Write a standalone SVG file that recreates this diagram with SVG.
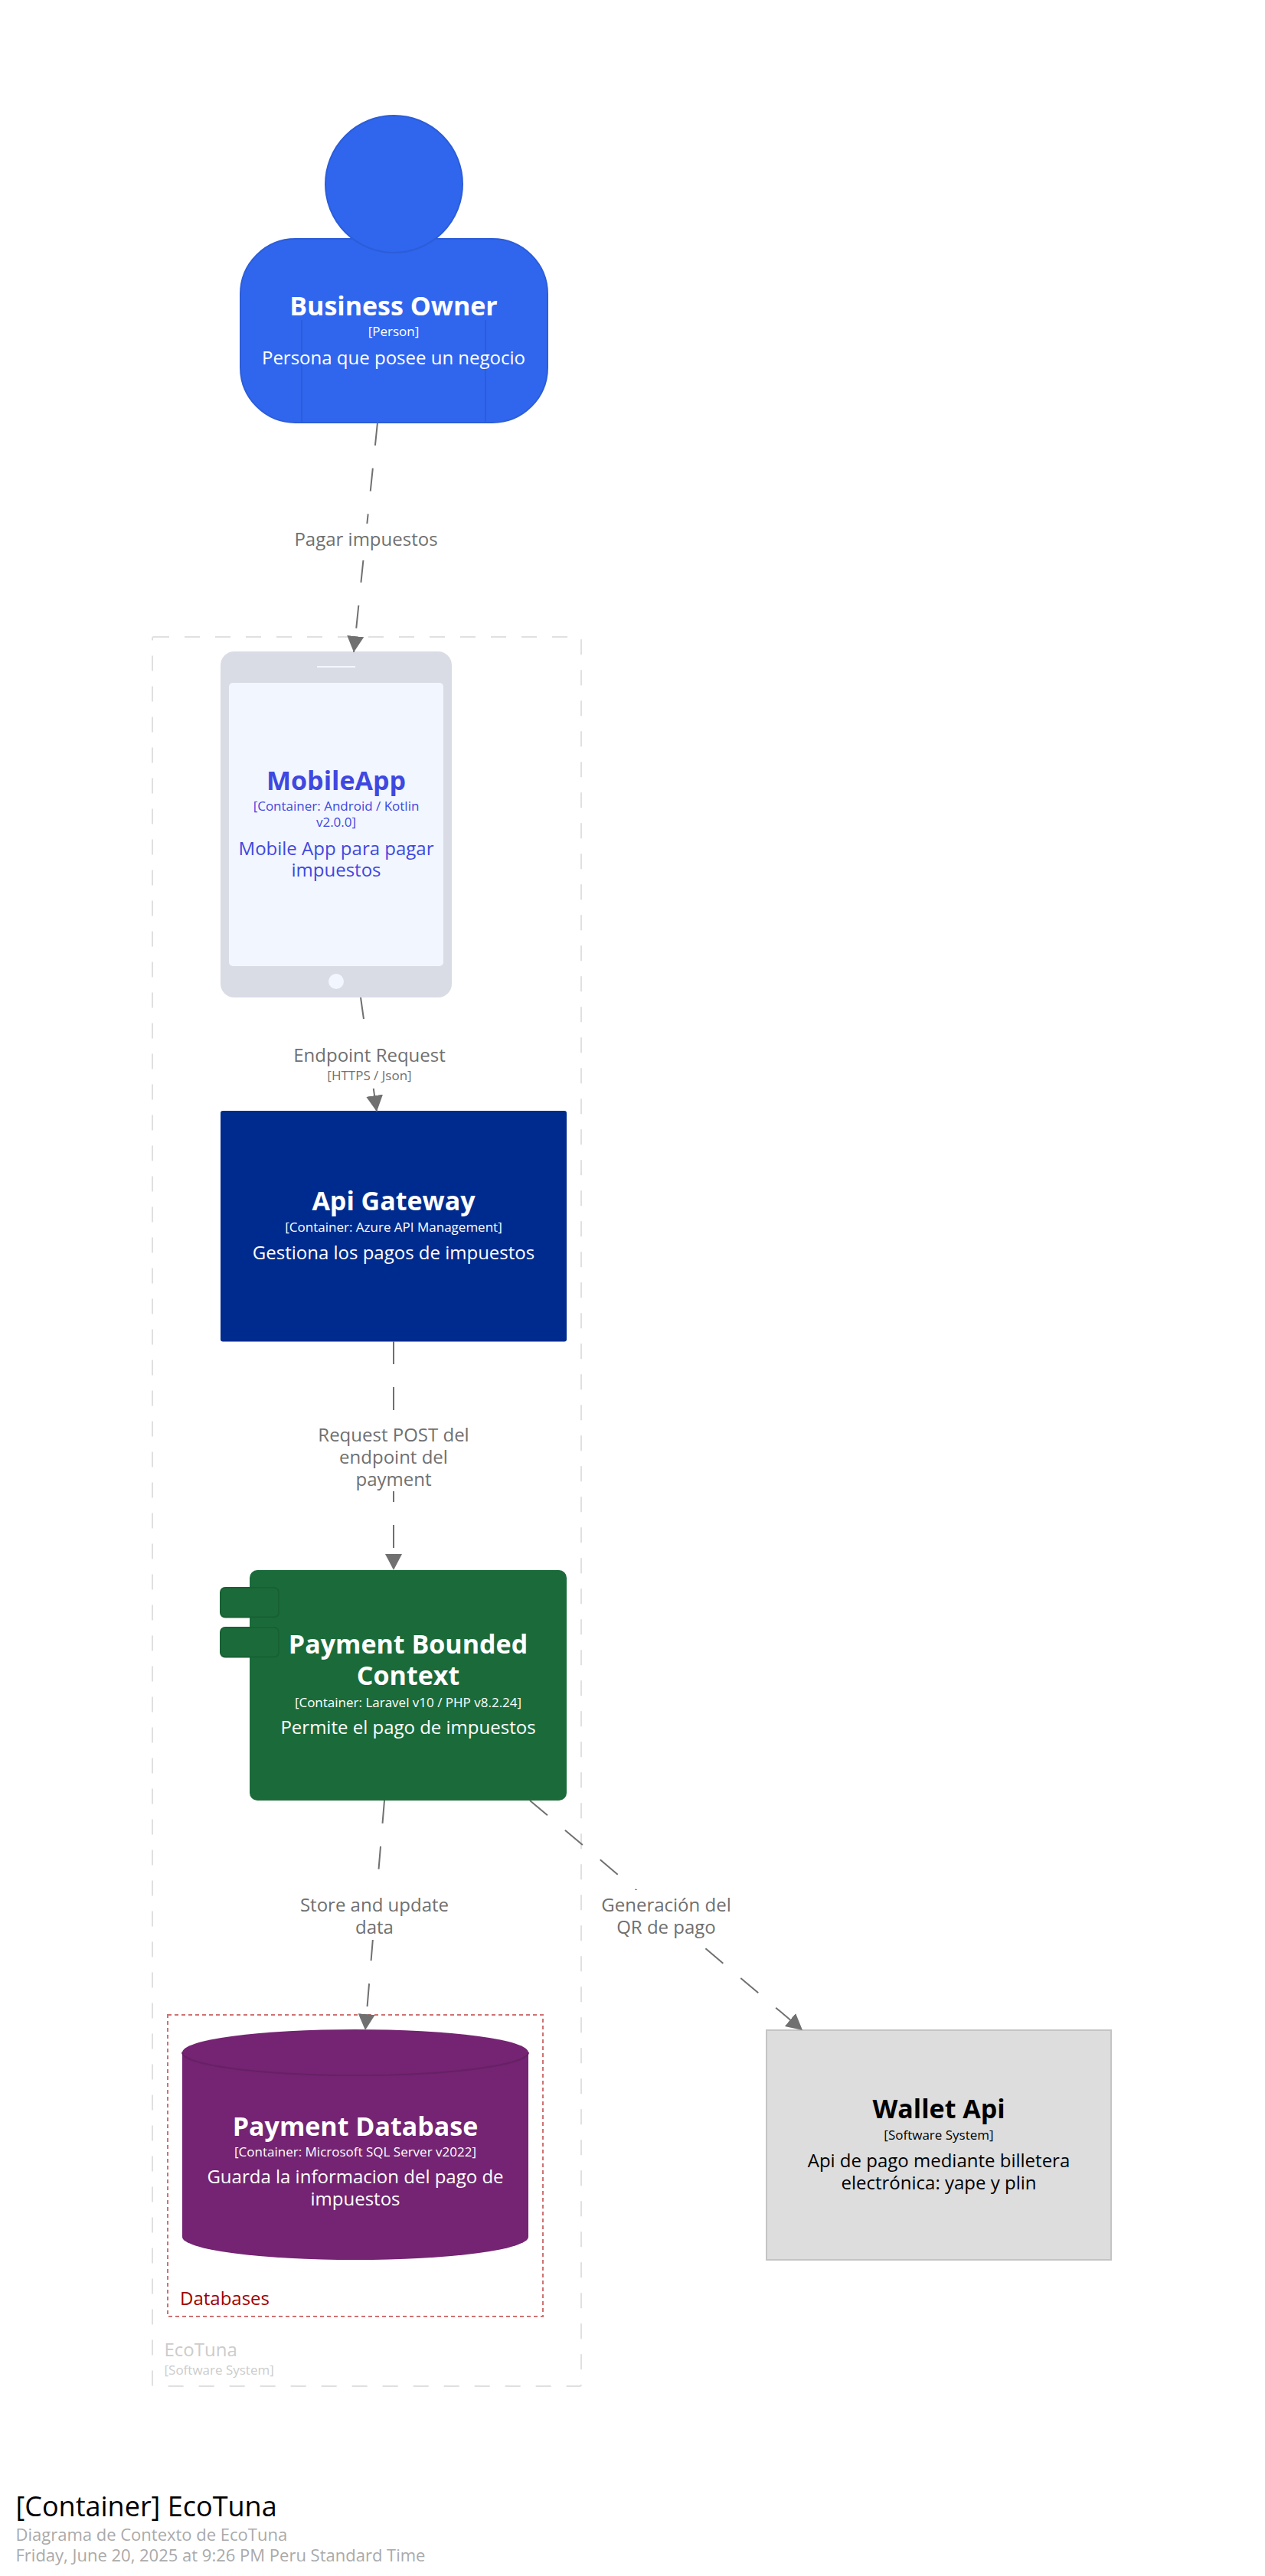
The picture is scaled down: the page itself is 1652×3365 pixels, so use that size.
<svg xmlns="http://www.w3.org/2000/svg" width="1652" height="3365" viewBox="0 0 1652 3365">
<style>
text{font-family:"Open Sans","Noto Sans",sans-serif}
.m{text-anchor:middle}
.n{font-weight:700;font-size:34px}
.t{font-size:17px}
.d{font-size:24px}
.w{fill:#fff}
.l{font-size:24px;fill:#707070;text-anchor:middle}
.c{fill:none;stroke:#707070;stroke-width:2;stroke-dasharray:30 30;marker-end:url(#arrow)}
.bg{fill:#fff}
</style>
<defs>
<marker id="arrow" markerUnits="userSpaceOnUse" markerWidth="22" markerHeight="22" refX="21" refY="11" orient="auto"><path d="M0,0L21,11L0,22Z" fill="#707070"/></marker>
</defs>
<rect width="1652" height="3365" fill="#fff"/>
<g id="boundary-ecotuna">
<rect x="199" y="832" width="560" height="2285" rx="2" fill="none" stroke="#E0E0E0" stroke-width="2" stroke-dasharray="20 20"/>
<text x="214.500" y="3078" font-size="24" fill="#CCCCCC">EcoTuna</text>
<text x="214.500" y="3102" font-size="17" fill="#CCCCCC">[Software System]</text>
</g>
<g id="boundary-databases">
<rect x="219" y="2632" width="490" height="394" fill="none" stroke="#CF7272" stroke-width="2" stroke-dasharray="5 4"/>
<text x="235" y="3011" font-size="24" fill="#A00000">Databases</text>
</g>
<g id="node-business-owner">
<rect x="314" y="312" width="401" height="240" rx="72" fill="#3066EE" stroke="#2C5DD8" stroke-width="2"/>
<path d="M394,418V552M634,418V552" stroke="#2C5DD8" stroke-width="2" fill="none"/>
<circle cx="514.500" cy="240.500" r="89.500" fill="#3066EE" stroke="#2C5DD8" stroke-width="2"/>
<text class="m n w" x="514" y="412">Business Owner</text>
<text class="m t w" x="514" y="439">[Person]</text>
<text class="m d w" x="514" y="476">Persona que posee un negocio</text>
</g>
<g id="node-mobile-app">
<rect x="288" y="851" width="302" height="452" rx="18" fill="#D9DCE5"/>
<rect x="299" y="892" width="280" height="370" rx="5" fill="#F2F6FE"/>
<path d="M414,871H464" stroke="#F2F6FE" stroke-width="2"/>
<circle cx="439" cy="1282" r="10" fill="#F2F6FE"/>
<g fill="#3F48E0">
<text class="m n" x="439" y="1031.500">MobileApp</text>
<text class="m t" x="439" y="1059">[Container: Android / Kotlin</text>
<text class="m t" x="439" y="1080">v2.0.0]</text>
<text class="m d" x="439" y="1116.500">Mobile App para pagar</text>
<text class="m d" x="439" y="1145">impuestos</text>
</g>
</g>
<g id="node-api-gateway">
<rect x="288" y="1451" width="452" height="301.500" rx="3" fill="#002B8E"/>
<text class="m n w" x="514" y="1581">Api Gateway</text>
<text class="m t w" x="514" y="1609">[Container: Azure API Management]</text>
<text class="m d w" x="514" y="1645">Gestiona los pagos de impuestos</text>
</g>
<g id="node-payment">
<rect x="326" y="2051" width="414" height="301" rx="10" fill="#1B6B3A"/>
<rect x="288" y="2074" width="76" height="38.500" rx="6" fill="#1B6B3A" stroke="#186033" stroke-width="2"/>
<rect x="288" y="2126" width="76" height="38.500" rx="6" fill="#1B6B3A" stroke="#186033" stroke-width="2"/>
<text class="m n w" x="533" y="2160">Payment Bounded</text>
<text class="m n w" x="533" y="2201">Context</text>
<text class="m t w" x="533" y="2230">[Container: Laravel v10 / PHP v8.2.24]</text>
<text class="m d w" x="533" y="2265">Permite el pago de impuestos</text>
</g>
<g id="node-payment-database">
<path d="M238,2681A226,30 0 0 1 690,2681V2922A226,30 0 0 1 238,2922Z" fill="#742472"/>
<path d="M238,2681A226,30 0 0 0 690,2681" fill="none" stroke="#672065" stroke-width="2"/>
<text class="m n w" x="464" y="2790">Payment Database</text>
<text class="m t w" x="464" y="2817">[Container: Microsoft SQL Server v2022]</text>
<text class="m d w" x="464" y="2852">Guarda la informacion del pago de</text>
<text class="m d w" x="464" y="2881">impuestos</text>
</g>
<g id="node-wallet-api">
<rect x="1001" y="2652" width="450" height="300" fill="#DDDDDD" stroke="#C4C4C4" stroke-width="2"/>
<text class="m n" x="1226" y="2767">Wallet Api</text>
<text class="m t" x="1226" y="2795">[Software System]</text>
<text class="m d" x="1226" y="2831">Api de pago mediante billetera</text>
<text class="m d" x="1226" y="2860">electrónica: yape y plin</text>
</g>
<g id="connectors">
<path class="c" d="M493,552L462,852"/>
<rect class="bg" x="385" y="684" width="187" height="48"/>
<text class="l" x="478" y="713">Pagar impuestos</text>
<path class="c" d="M471,1303L492,1452"/>
<rect class="bg" x="384" y="1331" width="197" height="89"/>
<text class="l" x="482.500" y="1387">Endpoint Request</text>
<text class="m t" x="482.500" y="1411" fill="#707070">[HTTPS / Json]</text>
<path class="c" d="M514,1752L514,2051"/>
<rect class="bg" x="416" y="1842" width="196" height="106"/>
<text class="l" x="514" y="1883">Request POST del</text>
<text class="l" x="514" y="1912">endpoint del</text>
<text class="l" x="514" y="1941">payment</text>
<path class="c" d="M502,2352L477,2652"/>
<rect class="bg" x="392" y="2442" width="194" height="92"/>
<text class="l" x="489" y="2497">Store and update</text>
<text class="l" x="489" y="2526">data</text>
<path class="c" d="M692,2352L1048,2652"/>
<rect class="bg" x="786" y="2469" width="168" height="75"/>
<text class="l" x="870" y="2497">Generación del</text>
<text class="l" x="870" y="2526">QR de pago</text>
</g>
<g id="title">
<text x="20.500" y="3287" font-size="36" fill="#000">[Container] EcoTuna</text>
<text x="20.500" y="3319" font-size="22" fill="#AAAAAA">Diagrama de Contexto de EcoTuna</text>
<text x="20.500" y="3346" font-size="22" fill="#AAAAAA">Friday, June 20, 2025 at 9:26 PM Peru Standard Time</text>
</g>
</svg>
